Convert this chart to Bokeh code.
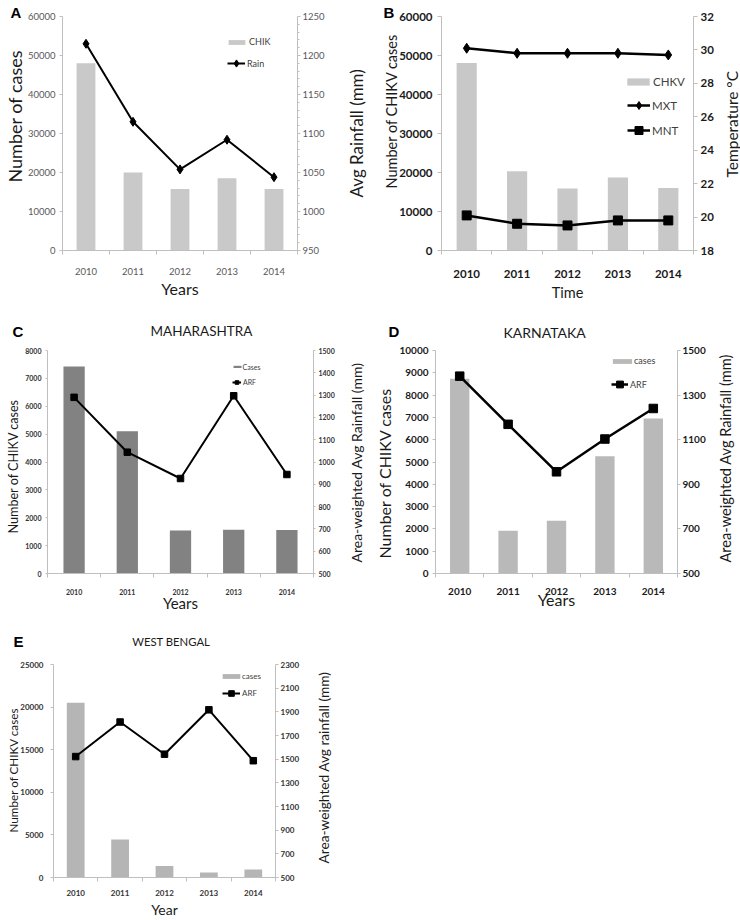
import math
from bokeh.plotting import figure
from bokeh.models import Range1d, LinearAxis, FixedTicker, Legend, LegendItem, Title
from bokeh.layouts import column, row
from bokeh.embed import file_html
from bokeh.resources import INLINE

years = ["2010", "2011", "2012", "2013", "2014"]

# Panel A
a_cases = [48000, 20000, 15800, 18500, 15800]
a_rain = [1215, 1115, 1054, 1092, 1044]
# Panel B
b_cases = [48100, 20300, 15900, 18700, 16000]
b_mxt = [30.1, 29.8, 29.8, 29.8, 29.7]
b_mnt = [20.1, 19.6, 19.5, 19.8, 19.8]
# Panel C (Maharashtra)
c_cases = [7430, 5100, 1540, 1570, 1560]
c_arf = [1290, 1044, 926, 1297, 944]
# Panel D (Karnataka)
d_cases = [8730, 1920, 2370, 5260, 6950]
d_arf = [1385, 1169, 956, 1103, 1240]
# Panel E (West Bengal)
e_cases = [20500, 4450, 1360, 600, 950]
e_arf = [1522, 1814, 1542, 1917, 1487]

FONT = "Lato"
AXIS_COL = "#bfbfbf"
TITLE_COL = "#1a1a1a"


def add_legend(p, items, left, cy, W, gh, spacing, standoff, fsize, fr):
    L, R, T, B = fr
    n = len(items)
    h_eff = max(gh, 1.2 * fsize)
    top = cy - h_eff / 2
    bottom = top + n * h_eff + (n - 1) * spacing
    leg = Legend(items=items, location=(left - L, B - bottom),
                 orientation="vertical", glyph_width=int(W), glyph_height=int(gh),
                 label_height=int(gh), spacing=int(spacing), padding=0, margin=0,
                 label_standoff=int(standoff), label_text_font=FONT,
                 label_text_font_size=f"{fsize}px", label_text_color="#404040",
                 border_line_color=None, background_fill_alpha=0)
    p.add_layout(leg)


def text_title(text, size, align, offset, standoff, font=FONT, style="normal",
               color=TITLE_COL):
    return Title(text=text, align=align, offset=offset, standoff=standoff,
                 text_font=font, text_font_size=f"{size}px", text_font_style=style,
                 text_color=color)


def side_title(text, size, start_y, x0, width, fig_y, height, T, B):
    """Narrow blank strip that carries a right-hand axis title reading upwards."""
    q = figure(width=width, height=height, x_range=Range1d(0, 1), y_range=Range1d(0, 1),
               x_axis_location=None, y_axis_location=None, output_backend="svg",
               toolbar_location=None, tools="", min_border_left=0, min_border_right=0,
               min_border_top=T - fig_y, min_border_bottom=fig_y + height - B)
    q.outline_line_color = None
    q.grid.visible = False
    q.add_layout(text_title(text, size, "left", B - start_y, 0), "left")
    return q


def build(cfg):
    fx, fy, w, h = cfg["fig"]
    fr = cfg["frame"]
    L, R, T, B = fr
    n = len(years)
    p = figure(width=w, height=h, x_range=Range1d(-0.5, n - 0.5),
               y_range=Range1d(0, cfg["y_max"]),
               output_backend="svg", toolbar_location=None, tools="",
               min_border_left=L - fx, min_border_right=fx + w - R,
               min_border_top=T - fy, min_border_bottom=fy + h - B)
    p.outline_line_color = None
    p.xgrid.visible = False
    p.ygrid.visible = False
    y2min, y2max, y2step = cfg["y2"]
    p.extra_y_ranges = {"y2": Range1d(y2min, y2max)}
    ax2 = LinearAxis(y_range_name="y2")
    p.add_layout(ax2, "right")
    xs = list(range(n))

    xa = p.below[0]
    ya = p.left[0]
    for ax in (xa, ya, ax2):
        ax.axis_line_color = AXIS_COL
        ax.major_tick_line_color = AXIS_COL
        ax.minor_tick_line_color = AXIS_COL
        ax.major_label_text_font = FONT
        ax.major_label_text_font_size = f"{cfg['tick_font']}px"
        ax.major_label_text_font_style = "bold" if cfg["tick_bold"] else "normal"
        ax.major_label_text_color = cfg["tick_color"]
        ax.major_tick_in = 0
        ax.minor_tick_in = 0
        ax.minor_tick_out = 0
    xa.ticker = FixedTicker(ticks=xs, minor_ticks=[i - 0.5 for i in range(n + 1)])
    xa.major_label_overrides = {i: yv for i, yv in enumerate(years)}
    xa.major_tick_out = 0
    xa.minor_tick_out = 4
    xa.major_label_standoff = cfg["x_standoff"]

    ya.ticker = FixedTicker(ticks=list(range(0, cfg["y_max"] + 1, cfg["y_step"])))
    ya.major_tick_out, ya.major_label_standoff = cfg["yl"]

    y2ticks = list(range(y2min, y2max + 1, y2step))
    minor = []
    if cfg.get("y2_minor"):
        minor = [v for v in range(y2min, y2max + 1, cfg["y2_minor"]) if v not in y2ticks]
        ax2.minor_tick_out = 2
    ax2.ticker = FixedTicker(ticks=y2ticks, minor_ticks=minor)
    ax2.major_tick_out, ax2.major_label_standoff = cfg["yr"]

    # bottom axis title
    t, s, so = cfg["bottom_title"]
    xa.axis_label = t
    xa.axis_label_text_font = FONT
    xa.axis_label_text_font_size = f"{s}px"
    xa.axis_label_text_font_style = "normal"
    xa.axis_label_text_color = TITLE_COL
    xa.axis_label_standoff = so

    # left axis title (reads upwards, starts at y_start)
    t, ys, s, so = cfg["left_title"]
    p.add_layout(text_title(t, s, "left", B - ys, so), "left")

    bar = p.vbar(x=xs, top=cfg["bars"], width=0.4, fill_color=cfg["bar_color"],
                 line_color=None)

    line_items = []
    for vals, marker, size, lw, lab in cfg["lines"]:
        r1 = p.line(xs, vals, y_range_name="y2", line_color="black", line_width=lw)
        r2 = p.scatter(xs, vals, y_range_name="y2", marker=marker, size=size,
                       fill_color="black", line_color="black")
        line_items.append(LegendItem(label=lab, renderers=[r1, r2]))

    bl = cfg["bar_legend"]
    add_legend(p, [LegendItem(label=bl["label"], renderers=[bar])], bl["left"], bl["cy"],
               bl["W"], bl["gh"], 0, bl["standoff"], bl["font"], fr)
    ll = cfg["line_legend"]
    add_legend(p, line_items, ll["left"], ll["cy"], ll["W"], ll["gh"], ll["spacing"],
               ll["standoff"], ll["font"], fr)

    # panel letter (nearest the frame) and state name (outer title)
    t, lx, so = cfg["letter"]
    letter = text_title(t, 15, "left", lx - L, so, font="Liberation Sans",
                        style="bold", color="black")
    if cfg.get("top_title"):
        t, x_left, size, so2 = cfg["top_title"]
        p.title = text_title(t, size, "left", x_left - L, so2)
        p.add_layout(letter, "above")
    else:
        p.title = letter

    rt, ys, s = cfg["right_title"]
    x0, wq = cfg["rt_strip"]
    q = side_title(rt, s, ys, x0, wq, fy, h, T, B)
    return p, q


A = dict(fig=(0, 0, 343, 306), frame=(62, 297, 16, 250), y_max=60000, y_step=10000,
         y2=(950, 1250, 50), y2_minor=10, bars=a_cases, bar_color="#c9c9c9",
         tick_font=9.5, tick_bold=False, tick_color="#595959", x_standoff=13,
         yl=(3, 4), yr=(3, 2),
         lines=[(a_rain, "diamond", 9, 2, "Rain")],
         bar_legend=dict(label="CHIK", left=226, cy=42, W=21, gh=6, standoff=2, font=9),
         line_legend=dict(left=227, cy=63, W=18, gh=18, spacing=0, standoff=2, font=9),
         left_title=("Number of cases", 182, 18, -3),
         right_title=("Avg Rainfall (mm)", 197, 17), rt_strip=(343, 27),
         bottom_title=("Years", 16, 1),
         letter=("A", 10, -8))

B = dict(fig=(370, 0, 350, 306), frame=(441, 693, 16, 250), y_max=60000, y_step=10000,
         y2=(18, 32, 2), bars=b_cases, bar_color="#c8c8c8",
         tick_font=11.5, tick_bold=True, tick_color="#1a1a1a", x_standoff=15,
         yl=(4, 5), yr=(4, 3),
         lines=[(b_mxt, "diamond", 10, 2.5, "MXT"), (b_mnt, "square", 9, 2.5, "MNT")],
         bar_legend=dict(label="CHKV", left=624, cy=81, W=28, gh=9, standoff=1, font=11.5),
         line_legend=dict(left=627, cy=105, W=23, gh=20, spacing=5, standoff=2, font=11.5),
         left_title=("Number of CHIKV cases", 188, 14.5, -6),
         right_title=("Temperature °C", 177, 15.5), rt_strip=(720, 20),
         bottom_title=("Time", 14.5, 3),
         letter=("B", 383, -8))

C = dict(fig=(0, 306, 345, 310), frame=(47, 313, 350, 573), y_max=8000, y_step=1000,
         y2=(500, 1500, 100), bars=c_cases, bar_color="#828282",
         tick_font=7, tick_bold=True, tick_color="#333333", x_standoff=11,
         yl=(2, 4), yr=(2, 3),
         lines=[(c_arf, "square", 6.5, 2, "ARF")],
         bar_legend=dict(label="Cases", left=231.6, cy=366.7, W=10, gh=3, standoff=1, font=7),
         line_legend=dict(left=232, cy=382, W=9, gh=10, spacing=0, standoff=2, font=7),
         left_title=("Number of CHIKV cases", 533, 12.6, 4),
         right_title=("Area-weighted Avg Rainfall (mm)", 562, 14), rt_strip=(345, 25),
         bottom_title=("Years", 15, -4),
         top_title=("MAHARASHTRA", 150, 13.5, -57),
         letter=("C", 12, 21))

D = dict(fig=(370, 306, 344, 310), frame=(435, 677, 350, 573), y_max=10000, y_step=1000,
         y2=(500, 1500, 200), bars=d_cases, bar_color="#b9b9b9",
         tick_font=10, tick_bold=True, tick_color="#1a1a1a", x_standoff=10,
         yl=(3, 4), yr=(3, 2),
         lines=[(d_arf, "square", 8.5, 2.5, "ARF")],
         bar_legend=dict(label="cases", left=610, cy=360.7, W=24, gh=6, standoff=0, font=9),
         line_legend=dict(left=611, cy=384, W=17, gh=18, spacing=0, standoff=2, font=9),
         left_title=("Number of CHIKV cases", 558, 16, 5),
         right_title=("Area-weighted Avg Rainfall (mm)", 562, 14.6), rt_strip=(714, 26),
         bottom_title=("Years", 16, -8),
         top_title=("KARNATAKA", 503, 14, -60),
         letter=("D", 388, 21))

E = dict(fig=(0, 616, 312, 304), frame=(53, 275, 662, 877), y_max=25000, y_step=5000,
         y2=(500, 2300, 200), bars=e_cases, bar_color="#b5b5b5",
         tick_font=8, tick_bold=True, tick_color="#333333", x_standoff=8,
         yl=(3, 7), yr=(3, 2),
         lines=[(e_arf, "square", 6.5, 2, "ARF")],
         bar_legend=dict(label="cases", left=220, cy=675.7, W=22, gh=6, standoff=0, font=8),
         line_legend=dict(left=222, cy=693.3, W=18, gh=14, spacing=0, standoff=2, font=8),
         left_title=("Number of CHIKV cases", 832, 11.7, -4),
         right_title=("Area-weighted Avg rainfall (mm)", 863, 13.7), rt_strip=(312, 25),
         bottom_title=("Year", 14, 2),
         top_title=("WEST BENGAL", 131.7, 11.3, -63),
         letter=("E", 13, 29))

(pa, qa), (pb, qb), (pc, qc), (pd, qd), (pe, qe) = (build(c) for c in (A, B, C, D, E))
layout = column(row(pa, qa, pb, qb), row(pc, qc, pd, qd), row(pe, qe))

open("out.html", "w").write(file_html(layout, INLINE))
